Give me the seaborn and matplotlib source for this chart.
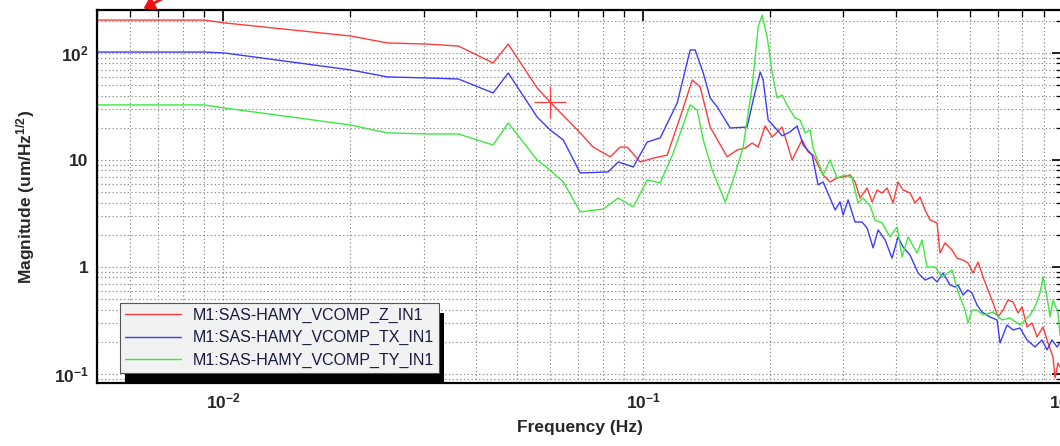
import numpy as np
import pandas as pd
import matplotlib
matplotlib.use("Agg")
import matplotlib.pyplot as plt
import seaborn as sns
from matplotlib.ticker import LogLocator, FixedLocator, FixedFormatter, NullFormatter
from matplotlib.patches import Rectangle, FancyArrowPatch

# ---------------- data ----------------
series_labels = ["M1:SAS-HAMY_VCOMP_Z_IN1", "M1:SAS-HAMY_VCOMP_TX_IN1", "M1:SAS-HAMY_VCOMP_TY_IN1"]
series_colors = ["#ff3c3c", "#3c3cff", "#3ee83e"]

z_freq = [0.005, 0.009, 0.01005, 0.0201, 0.0246, 0.0306, 0.0363, 0.0439, 0.0477, 0.0559,
          0.0600, 0.0708, 0.0760, 0.0835, 0.0881, 0.0916, 0.0984, 0.1056, 0.1141, 0.1225,
          0.1309, 0.1367, 0.1444, 0.1585, 0.1674, 0.1750, 0.1817, 0.1879, 0.1952, 0.2029,
          0.2143, 0.2263, 0.2391, 0.2471, 0.2540, 0.2610, 0.2683, 0.2787, 0.2897, 0.2994,
          0.3111, 0.3197, 0.3286, 0.3415, 0.3510, 0.3607, 0.3707, 0.3811, 0.3938, 0.4047,
          0.4159, 0.4323, 0.4443, 0.4566, 0.4692, 0.4823, 0.5012, 0.5094, 0.5236, 0.5442,
          0.5592, 0.5781, 0.5939, 0.6105, 0.6275, 0.6449, 0.6627, 0.6813, 0.7003, 0.7196,
          0.7396, 0.7603, 0.7814, 0.7987, 0.8209, 0.8437, 0.8672, 0.8962, 0.9212, 0.9467,
          0.9572, 0.9730, 0.9837]
z_mag = [203, 203, 191, 144, 124, 121, 116, 80.6, 121, 47.1,
         34.8, 17.9, 13.2, 10.7, 13.2, 13.2, 9.58, 10.4, 11.1, 25.2,
         55.9, 48.1, 20.3, 10.7, 12.4, 12.9, 14.4, 13.2, 20.8, 16.4,
         20.3, 10.0, 15.4, 11.9, 11.1, 8.98, 7.24, 6.23, 6.79, 6.94,
         7.24, 6.23, 4.41, 5.47, 4.05, 5.24, 4.91, 5.47, 3.96, 6.23,
         5.24, 4.91, 3.96, 4.51, 3.41, 2.75, 2.58, 1.35, 1.68, 1.44,
         1.21, 1.16, 1.09, 0.879, 1.11, 0.806, 0.610, 0.461, 0.341, 0.396,
         0.491, 0.471, 0.372, 0.423, 0.275, 0.300, 0.222, 0.275, 0.195, 0.144,
         0.0918, 0.127, 0.116]

tx_freq = [0.005, 0.009, 0.01005, 0.0201, 0.0246, 0.0306, 0.0363, 0.0439, 0.0477, 0.0559,
           0.0600, 0.0645, 0.0708, 0.0825, 0.0872, 0.0947, 0.1022, 0.1098, 0.1205, 0.1294,
           0.1330, 0.1390, 0.1444, 0.1501, 0.1611, 0.1768, 0.1828, 0.1900, 0.1931, 0.1985,
           0.2084, 0.2143, 0.2239, 0.2326, 0.2404, 0.2526, 0.2610, 0.2683, 0.2787, 0.2865,
           0.2944, 0.2994, 0.3077, 0.3197, 0.3322, 0.3415, 0.3529, 0.3627, 0.3769, 0.3916,
           0.4047, 0.4159, 0.4323, 0.4516, 0.4692, 0.4876, 0.5012, 0.5179, 0.5383, 0.5532,
           0.5623, 0.5781, 0.5939, 0.6071, 0.6240, 0.6413, 0.6701, 0.6964, 0.7079, 0.7356,
           0.7603, 0.7900, 0.8209, 0.8577, 0.8913, 0.9161, 0.9415, 0.9676, 0.9837]
tx_mag = [102, 102, 100, 69.4, 59.7, 58.4, 57.1, 42.3, 65.0, 25.2,
          19.1, 15.4, 7.56, 7.73, 9.58, 8.60, 14.7, 16.1, 34.1, 106.7,
          106.7, 65.0, 38.0, 31.3, 19.9, 20.3, 36.4, 66.4, 55.9, 23.6,
          19.1, 16.8, 18.3, 20.8, 13.8, 11.1, 5.84, 6.23, 4.41, 3.41,
          4.05, 3.06, 4.23, 2.63, 2.63, 2.31, 1.51, 2.22, 1.79, 1.21,
          1.91, 1.54, 1.29, 0.879, 0.756, 0.806, 0.724, 0.879, 0.679, 0.650,
          0.679, 0.547, 0.610, 0.571, 0.441, 0.380, 0.341, 0.320, 0.195, 0.287,
          0.258, 0.269, 0.208, 0.179, 0.208, 0.168, 0.208, 0.179, 0.195]

ty_freq = [0.005, 0.009, 0.01005, 0.0201, 0.0246, 0.0306, 0.0363, 0.0439, 0.0477, 0.0559,
           0.0600, 0.0645, 0.0708, 0.0803, 0.0872, 0.0947, 0.1022, 0.1098, 0.1179, 0.1294,
           0.1345, 0.1390, 0.1460, 0.1568, 0.1638, 0.1730, 0.1817, 0.1879, 0.1920, 0.1974,
           0.2029, 0.2084, 0.2143, 0.2214, 0.2301, 0.2365, 0.2430, 0.2498, 0.2540, 0.2610,
           0.2683, 0.2787, 0.2897, 0.3027, 0.3145, 0.3250, 0.3340, 0.3471, 0.3568, 0.3707,
           0.3873, 0.4025, 0.4137, 0.4276, 0.4492, 0.4616, 0.4744, 0.4956, 0.5151, 0.5442,
           0.5623, 0.5843, 0.5939, 0.6071, 0.6240, 0.6449, 0.6813, 0.7157, 0.7478, 0.7900,
           0.8345, 0.8577, 0.8815, 0.8962, 0.9161, 0.9312, 0.9467, 0.9730, 0.9837]
ty_mag = [32.7, 32.7, 30.6, 21.2, 17.9, 17.5, 17.5, 13.8, 22.2, 10.0,
          8.06, 6.23, 3.27, 3.48, 4.41, 3.64, 6.50, 6.10, 11.6, 32.7,
          29.3, 15.4, 8.06, 4.05, 6.50, 13.2, 48.1, 175, 226, 141,
          65.0, 38.0, 40.5, 31.3, 24.7, 23.6, 17.9, 19.1, 12.9, 9.58,
          7.24, 10.0, 6.79, 7.24, 6.79, 3.96, 4.41, 3.72, 2.75, 2.58,
          1.91, 2.37, 1.24, 1.91, 1.35, 1.79, 1.00, 1.00, 0.806, 0.937,
          0.584, 0.396, 0.300, 0.396, 0.396, 0.356, 0.380, 0.320, 0.334, 0.287,
          0.356, 0.423, 0.571, 0.806, 0.524, 0.341, 0.491, 0.372, 0.231]

cursor_freq = [0.0600]
cursor_mag = [34.8]

x_tick_values = [0.01, 0.1, 1.0]
x_tick_labels = ["$10^{-2}$", "$10^{-1}$", "$10^{0}$"]
y_tick_values = [0.1, 1, 10, 100]
y_tick_labels = ["$10^{-1}$", "1", "10", "$10^{2}$"]

# ---------------- frame ----------------
frames = []
for lab, f, m in zip(series_labels, [z_freq, tx_freq, ty_freq], [z_mag, tx_mag, ty_mag]):
    frames.append(pd.DataFrame({"freq": f, "mag": m, "series": lab}))
df = pd.concat(frames, ignore_index=True)

sns.set_theme(style="white")
plt.rcParams["font.family"] = ["Liberation Sans", "DejaVu Sans"]
plt.rcParams["mathtext.default"] = "regular"

W, H = 1060, 446
fig = plt.figure(figsize=(W / 100, H / 100), dpi=100)
ax = fig.add_axes([97 / W, 1 - 383 / H, 966 / W, 373 / H])

sns.lineplot(data=df, x="freq", y="mag", hue="series", hue_order=series_labels,
             palette=series_colors, sort=False, estimator=None, linewidth=1.0, ax=ax)
ax.plot(cursor_freq, cursor_mag, marker="+", ms=23, mew=0.9, color=series_colors[0], ls="none")

ax.set_xscale("log")
ax.set_yscale("log")
ax.set_xlim(0.005, 1.0)
ax.set_ylim(0.0824, 252)

ax.xaxis.set_major_locator(FixedLocator(x_tick_values))
ax.xaxis.set_major_formatter(FixedFormatter(x_tick_labels))
ax.xaxis.set_minor_locator(LogLocator(base=10, subs=np.arange(2, 10)))
ax.xaxis.set_minor_formatter(NullFormatter())
ax.yaxis.set_major_locator(FixedLocator(y_tick_values))
ax.yaxis.set_major_formatter(FixedFormatter(y_tick_labels))
ax.yaxis.set_minor_locator(LogLocator(base=10, subs=np.arange(2, 10)))
ax.yaxis.set_minor_formatter(NullFormatter())

ax.grid(True, which="both", linestyle=(0, (1.2, 2.2)), color="#8a8a8a", linewidth=0.8)
ax.tick_params(which="both", direction="in", top=True, right=True, color="black")
ax.tick_params(which="major", length=8, width=1.2, labelsize=12.5, pad=6)
ax.tick_params(which="minor", length=5, width=0.9)
for lab in ax.get_xticklabels() + ax.get_yticklabels():
    lab.set_fontweight("bold")
for sp in ax.spines.values():
    sp.set_visible(True)
    sp.set_color("black")
    sp.set_linewidth(1.6)

ax.set_xlabel("Frequency (Hz)", fontsize=12.5, fontweight="bold", labelpad=6)
ax.set_ylabel("Magnitude (um/Hz$^{1/2}$)", fontsize=12.5, fontweight="bold", labelpad=12)

leg = ax.legend(loc="lower left", bbox_to_anchor=(0.0238, 0.0268), borderaxespad=0,
                frameon=True, fancybox=False, facecolor="#f2f2f2", edgecolor="#555555",
                framealpha=1, fontsize=11.5, handlelength=3.5, handletextpad=0.75,
                labelspacing=0.48, borderpad=0.3)
leg.get_frame().set_linewidth(0.8)
for t in leg.get_texts():
    t.set_color("#1a1a40")

# legend drop shadow
fig.canvas.draw()
bb = leg.get_window_extent()
shadow = Rectangle((bb.x0 + 5, bb.y0 - 10), bb.width, bb.height, transform=None,
                   facecolor="black", edgecolor="none", zorder=4.5)
shadow.set_clip_path(ax.patch)
ax.add_artist(shadow)

# red annotation arrow at the top left
fig.patches.append(FancyArrowPatch(
    (175 / W, 1 + 8 / H), (141 / W, 1 - 10 / H), transform=fig.transFigure,
    arrowstyle="-|>,head_length=6,head_width=4", color="#ee1111", lw=2))

fig.savefig("out.png", dpi=100, facecolor="white")
